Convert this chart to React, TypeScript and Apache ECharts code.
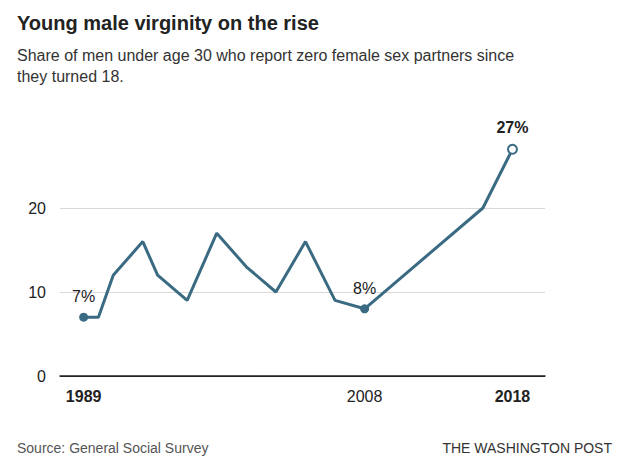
import React, { useEffect, useRef } from "react";
import * as echarts from "echarts";

const years = [1989, 1990, 1991, 1993, 1994, 1996, 1998, 2000, 2002, 2004, 2006, 2008, 2016, 2018];
const values = [7, 7, 12, 16, 12, 9, 17, 13, 10, 16, 9, 8, 20, 27];
const xTicks = [1989, 2008, 2018];
const yTicks = [0, 10, 20];
const labelled: Record<number, string> = { 1989: "7%", 2008: "8%", 2018: "27%" };

export default function App() {
  const ref = useRef<HTMLDivElement>(null);
  useEffect(() => {
    const chart = echarts.init(ref.current!, undefined, { renderer: "svg" });
    const font = "'Liberation Sans', Arial, sans-serif";
    const color = "#3b6b82";
    const data = years.map((y, i) =>
      y === 2018
        ? { value: [y, values[i]], itemStyle: { color: "#fff", borderColor: color, borderWidth: 2 } }
        : [y, values[i]]
    );
    chart.setOption({
      animation: false,
      textStyle: { fontFamily: font },
      title: [
        { text: "Young male virginity on the rise", left: 12, top: 8,
          textStyle: { fontSize: 20, fontWeight: "bold", color: "#222", fontFamily: font } },
        { text: "Share of men under age 30 who report zero female sex partners since\nthey turned 18.", left: 12, top: 40,
          textStyle: { fontSize: 16, fontWeight: "normal", color: "#333", lineHeight: 21, fontFamily: font } },
        { text: "Source: General Social Survey", left: 12, top: 436,
          textStyle: { fontSize: 14, fontWeight: "normal", color: "#555", fontFamily: font } },
        { text: "THE WASHINGTON POST", right: 16, top: 436,
          textStyle: { fontSize: 14, fontWeight: "normal", color: "#333", fontFamily: font } },
      ],
      grid: { left: 60, right: 88, top: 124, bottom: 91 },
      xAxis: {
        type: "value", min: 1987.4, max: 2020.2,
        axisLine: { show: true, lineStyle: { color: "#222", width: 1.5 } },
        axisTick: { show: false }, splitLine: { show: false },
        axisLabel: {
          customValues: xTicks, margin: 12, fontSize: 16, color: "#222", fontFamily: font,
          formatter: (v: number) => (v === 2008 ? String(v) : `{b|${v}}`),
          rich: { b: { fontWeight: "bold", fontSize: 16, color: "#222", fontFamily: font } },
        },
      },
      yAxis: {
        type: "value", min: 0, max: 30, interval: 10,
        axisLine: { show: false }, axisTick: { show: false },
        axisLabel: { fontSize: 16, color: "#222", margin: 14, fontFamily: font,
          formatter: (v: number) => (yTicks.includes(v) ? String(v) : "") },
        splitLine: { lineStyle: { color: ["#222", "#d8d8d8", "#d8d8d8", "transparent"] } },
      },
      series: [{
        type: "line",
        data,
        lineStyle: { color, width: 3 },
        symbol: "circle",
        symbolSize: (d: number[]) => (labelled[d[0]] ? 9 : 0),
        itemStyle: { color },
        label: {
          show: true, position: "top", distance: 8, fontSize: 16, color: "#222", fontFamily: font,
          formatter: (p: any) => {
            const t = labelled[p.value[0]];
            if (!t) return "";
            return p.value[0] === 2018 ? `{b|${t}}` : t;
          },
          rich: { b: { fontWeight: "bold", fontSize: 16, color: "#222", fontFamily: font } },
        },
      }],
    });
    return () => chart.dispose();
  }, []);
  return <div ref={ref} style={{ position: "absolute", left: 0, top: 0, width: 633, height: 467, background: "#fff" }} />;
}
